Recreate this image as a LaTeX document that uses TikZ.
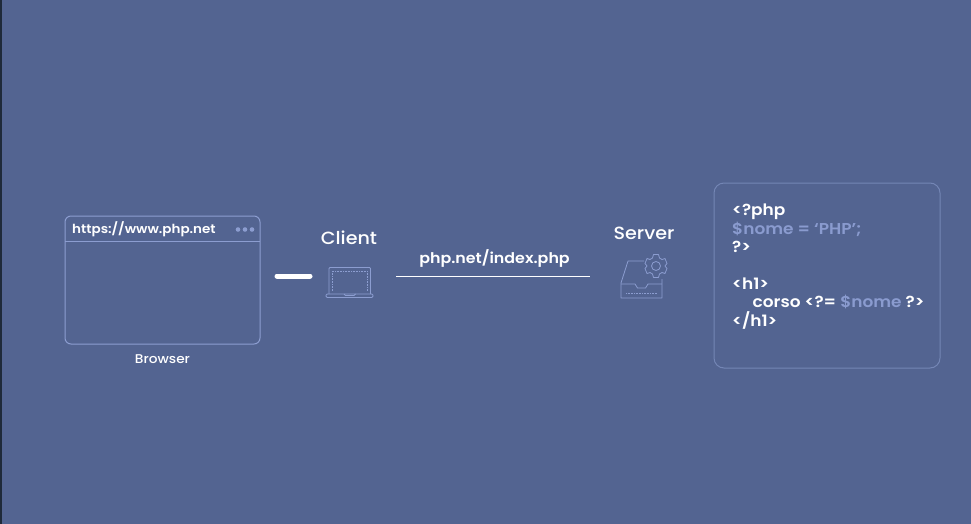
\documentclass[tikz,border=0pt]{standalone}
\usepackage{fontspec}
\setmainfont{Poppins}
\newfontfamily\popmed[FakeStretch=1.08]{Poppins Medium}
\newfontfamily\popsb[FakeStretch=1.08]{Poppins SemiBold}
\definecolor{bgc}{HTML}{536491}
\definecolor{linec}{HTML}{8C9DD0}
\definecolor{codec}{HTML}{8A9BCF}
\definecolor{boxc}{HTML}{7486B5}
\definecolor{edgec}{HTML}{1F2A3A}
\tikzset{
  outline/.style={draw=linec,line width=1pt},
  thin outline/.style={draw=linec,line width=0.8pt},
  lbl/.style={text=white,inner sep=0pt,anchor=base},
  code/.style={text=white,inner sep=0pt,anchor=base west,font=\fontsize{15.7}{16}\selectfont\popsb},
  hl/.style={text=codec},
}
\begin{document}
\begin{tikzpicture}[x=1pt,y=-1pt]
\useasboundingbox (0,0) rectangle (971,524);
\fill[bgc] (0,0) rectangle (971,524);
\fill[edgec] (0,0) rectangle (2,524);
% browser
\node[outline,rounded corners=6pt,minimum width=195pt,minimum height=128pt,inner sep=0pt] (browser) at (162.5,280) {};
\draw[outline] (65,241) -- (260,241);
\node[lbl,anchor=base west,font=\fontsize{12.5}{15}\selectfont\popsb] (url) at (72,233) {https://www.php.net};
\foreach \x in {238,245,252}{\fill[linec] (\x,229.5) circle (2.3pt);}
\node[lbl,font=\fontsize{12.7}{14}\selectfont\popmed] (blabel) at (162.5,363) {Browser};
% bar
\coordinate (barL) at (277,276);
\coordinate (barR) at (310,276);
\draw[white,line width=5pt,line cap=round] (barL) -- (barR);
% client
\node[lbl,font=\fontsize{17.7}{20}\selectfont\popmed] (client) at (349,244) {Client};
\draw[thin outline,rounded corners=1pt] (329,294) -- (329,267.5) -- (370.5,267.5) -- (370.5,294);
\draw[thin outline,rounded corners=1.2pt] (326,294) -- (373,294) -- (373,297.5) -- (326,297.5) -- cycle;
\draw[linec,line width=0.6pt,densely dotted] (332.5,291) -- (332.5,271) -- (367,271) -- (367,291);
\draw[thin outline] (344,294) -- (345.5,295.5) -- (354,295.5) -- (355.5,294);
% url link
\node[lbl,font=\fontsize{14.7}{16}\selectfont\popsb] (path) at (494.5,263.5) {php.net/index.php};
\coordinate (lineL) at (396,276);
\coordinate (lineR) at (590,276);
\draw[white,line width=1pt] (lineL) -- (lineR);
% server
\node[lbl,font=\fontsize{17.7}{20}\selectfont\popmed] (server) at (644,239) {Server};
\draw[thin outline,line join=round] (644,261) -- (628,261) -- (621,283) -- (621,298) -- (662,298) -- (662,279);
\draw[thin outline,line join=round] (621,284) -- (635,284) -- (637.5,288) -- (645.5,288) -- (648,284) -- (662,284);
\draw[linec,line width=0.6pt,densely dotted] (626,293.5) -- (657,293.5);
\draw[thin outline,line join=round]
  (653.5,254.5) -- (658.5,254.5) -- (659.5,258) -- (662,259.5) -- (665,258.5) -- (667,263.5) -- (665,266) -- (667,268.5) -- (665,273.5) -- (662,272.5) -- (659.5,274) -- (658.5,277.5) -- (653.5,277.5) -- (652.5,274) -- (650,272.5) -- (647,273.5) -- (645,268.5) -- (647,266) -- (645,263.5) -- (647,258.5) -- (650,259.5) -- (652.5,258) -- cycle;
\draw[thin outline] (656,266) circle (4.5pt);
% code box
\node[draw=boxc,line width=1pt,rounded corners=10pt,minimum width=226pt,minimum height=185pt,inner sep=0pt] (codebox) at (827,275.5) {};
\node[code] (c1) at (732,215.5) {<?php};
\node[code,hl] (c2) at (732,234) {\$nome = ‘PHP’;};
\node[code] (c3) at (732,252.5) {?>};
\node[code] (c4) at (732,289) {<h1>};
\node[code] (c5) at (752.5,307.5) {corso <?= \textcolor{codec}{\$nome} ?>};
\node[code] (c6) at (732,326) {</h1>};
\end{tikzpicture}
\end{document}
